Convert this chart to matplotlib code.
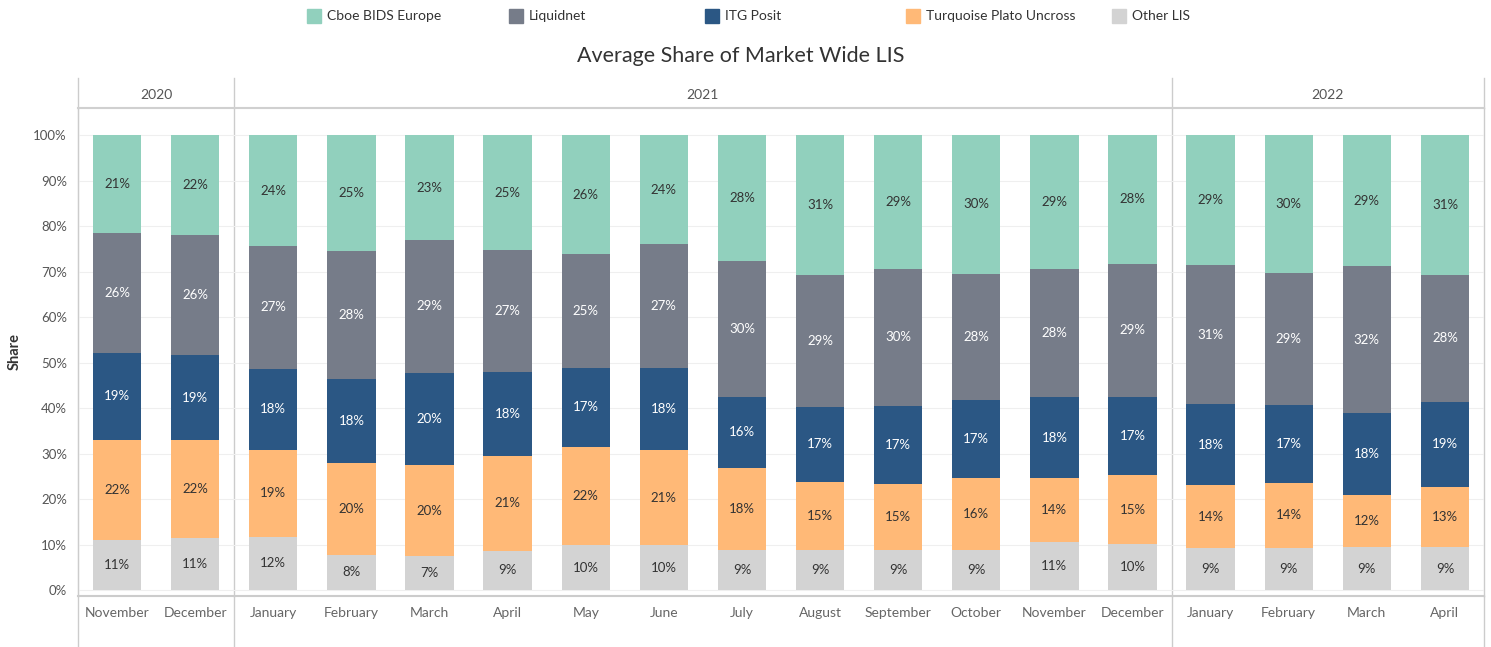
import numpy as np
import matplotlib.pyplot as plt
from matplotlib.patches import Rectangle
from matplotlib.lines import Line2D

plt.rcParams["font.family"] = ["Lato", "DejaVu Sans"]

months = ["November", "December",
          "January", "February", "March", "April", "May", "June",
          "July", "August", "September", "October", "November", "December",
          "January", "February", "March", "April"]
years = ["2020", "2021", "2022"]
year_counts = [2, 12, 4]

other = [11.0, 11.4, 11.7, 7.8, 7.4, 8.6, 9.8, 9.8, 8.8, 8.8, 8.8, 8.8, 10.6, 10.1, 9.2, 9.2, 9.4, 9.4]
turquoise = [22.0, 21.6, 19.1, 20.1, 20.1, 20.9, 21.7, 20.9, 18.1, 14.9, 14.6, 15.8, 14.0, 15.2, 13.8, 14.4, 11.6, 13.2]
itg = [19.2, 18.6, 17.8, 18.4, 20.3, 18.4, 17.4, 18.2, 15.6, 16.6, 17.1, 17.2, 17.8, 17.1, 17.8, 17.1, 17.9, 18.8]
liquidnet = [26.4, 26.4, 27.1, 28.3, 29.2, 26.9, 24.9, 27.1, 29.8, 28.9, 30.1, 27.8, 28.3, 29.4, 30.6, 29.1, 32.3, 27.9]
cboe = [21.4, 22.0, 24.3, 25.4, 23.0, 25.2, 26.2, 24.0, 27.7, 30.8, 29.4, 30.4, 29.3, 28.2, 28.6, 30.2, 28.8, 30.7]

series = [
    ("Other LIS", other, "#d3d3d3", "#333333"),
    ("Turquoise Plato Uncross", turquoise, "#ffb977", "#333333"),
    ("ITG Posit", itg, "#2b5784", "white"),
    ("Liquidnet", liquidnet, "#767c89", "white"),
    ("Cboe BIDS Europe", cboe, "#91d0bd", "#333333"),
]
legend_order = ["Cboe BIDS Europe", "Liquidnet", "ITG Posit",
                "Turquoise Plato Uncross", "Other LIS"]

W, H = 1491, 647
fig = plt.figure(figsize=(W / 100, H / 100), dpi=100)


def fx(px):
    return px / W


def fy(py):
    return 1 - py / H


left, right, top, bottom = 78, 1484, 108, 596
ax = fig.add_axes([fx(left), fy(bottom), fx(right - left), fy(top) - fy(bottom)])

x = np.arange(len(months))
base = np.zeros(len(months))
for name, vals, col, tcol in series:
    vals = np.array(vals)
    ax.bar(x, vals, bottom=base, width=0.62, color=col, zorder=2)
    for xi, b, v in zip(x, base, vals):
        ax.text(xi, b + v / 2, f"{round(v)}%", ha="center", va="center",
                fontsize=9.5, color=tcol, zorder=3)
    base += vals

ax.set_xlim(-0.5, len(months) - 0.5)
ax.set_ylim(-(bottom - 590) / 4.547, (590 - top) / 4.547)
ax.set_yticks(np.arange(0, 101, 10))
ax.set_yticklabels([f"{v}%" for v in range(0, 101, 10)], fontsize=9.5, color="#555555")
ax.yaxis.grid(True, color="#efefef", linewidth=0.8, zorder=0)
ax.set_xticks(x)
ax.set_xticklabels(months, fontsize=10, color="#666666")
ax.tick_params(axis="y", length=0, pad=8)
ax.tick_params(axis="x", length=0, pad=8)
for s in ["top", "right"]:
    ax.spines[s].set_visible(False)
ax.spines["left"].set_color("#cccccc")
ax.spines["bottom"].set_color("#cccccc")
ax.spines["bottom"].set_linewidth(1.5)
ax.set_ylabel("Share", fontsize=10.5, color="#333333", fontweight="bold", labelpad=8)

# year panels: separators and headers
edges = np.concatenate([[0], np.cumsum(year_counts)]) - 0.5
for e in edges:
    ax.plot([e, e], [0, 1], transform=ax.get_xaxis_transform(),
            color="#cccccc", lw=1, clip_on=False, zorder=1)
for i in range(len(edges)):
    xp = ax.transData.transform((edges[i], 0))[0]
    fig.add_artist(Line2D([xp / W, xp / W], [fy(78), fy(top)], color="#cccccc", lw=1))
    fig.add_artist(Line2D([xp / W, xp / W], [0, fy(bottom)], color="#cccccc", lw=1))
fig.add_artist(Line2D([fx(left), fx(right)], [fy(top), fy(top)], color="#d0d0d0", lw=1.5))
for i, yr in enumerate(years):
    cx = (edges[i] + edges[i + 1]) / 2
    xp = ax.transData.transform((cx, 0))[0]
    fig.text(xp / W, fy(95), yr, ha="center", va="center", fontsize=10, color="#555555")

fig.text(0.497, fy(56), "Average Share of Market Wide LIS", ha="center", va="center",
         fontsize=15.5, color="#333333")

# legend
colors = {name: col for name, _, col, _ in series}
leg_x = [307, 509, 705, 906, 1112]
for lx, name in zip(leg_x, legend_order):
    fig.add_artist(Rectangle((fx(lx), fy(23)), fx(14), fy(9) - fy(23),
                             color=colors[name], transform=fig.transFigure))
    fig.text(fx(lx + 20), fy(16), name, ha="left", va="center", fontsize=10, color="#333333")

fig.savefig("out.png", dpi=100)
